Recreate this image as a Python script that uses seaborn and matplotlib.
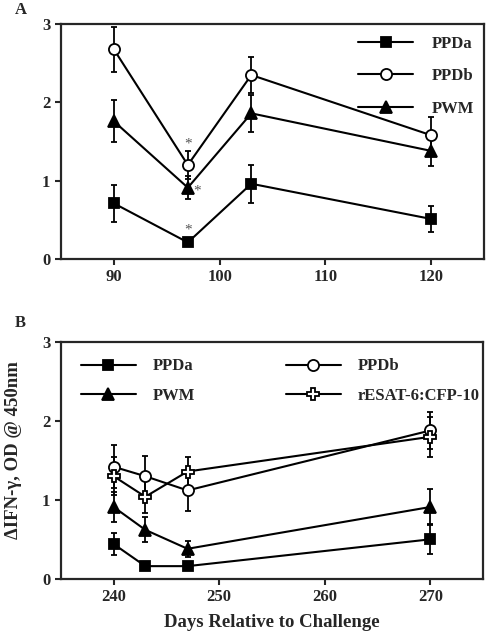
import pandas as pd
import matplotlib.pyplot as plt
import seaborn as sns

# Panel A data
days_a = [90, 97, 103, 120]
ppda_a = [0.71, 0.21, 0.96, 0.51]
ppda_a_err = [0.24, 0.03, 0.24, 0.17]
ppdb_a = [2.68, 1.20, 2.35, 1.58]
ppdb_a_err = [0.29, 0.18, 0.23, 0.23]
pwm_a = [1.76, 0.91, 1.86, 1.38]
pwm_a_err = [0.27, 0.15, 0.24, 0.19]

# Panel B data
days_b = [240, 243, 247, 270]
ppda_b = [0.44, 0.16, 0.16, 0.50]
ppda_b_err = [0.14, 0.02, 0.02, 0.19]
ppdb_b = [1.42, 1.30, 1.12, 1.88]
ppdb_b_err = [0.27, 0.26, 0.26, 0.24]
pwm_b = [0.91, 0.62, 0.38, 0.91]
pwm_b_err = [0.19, 0.16, 0.10, 0.23]
esat_b = [1.30, 1.04, 1.36, 1.80]
esat_b_err = [0.24, 0.21, 0.19, 0.25]

sns.set_style("ticks")
plt.rcParams["font.family"] = ["Liberation Serif", "DejaVu Serif"]
plt.rcParams["font.weight"] = "bold"

markers = {"PPDa": "s", "PPDb": "o", "PWM": "^", "rESAT-6:CFP-10": "P"}
faces = {"PPDa": "black", "PPDb": "white", "PWM": "black", "rESAT-6:CFP-10": "white"}


def make_df(days, series):
    rows = []
    for name, vals, errs in series:
        for d, v, e in zip(days, vals, errs):
            rows.append({"day": d, "value": v, "err": e, "group": name})
    return pd.DataFrame(rows)


def draw_panel(ax, df, order):
    for name in order:
        sub = df[df["group"] == name]
        ax.errorbar(sub["day"], sub["value"], yerr=sub["err"], fmt="none",
                    ecolor="black", elinewidth=1.3, capsize=2.5, capthick=1.3, zorder=1)
        sns.lineplot(data=sub, x="day", y="value", ax=ax, color="black",
                     marker=markers[name], markersize=8 if name != "PPDa" else 7.5,
                     markerfacecolor=faces[name], markeredgecolor="black",
                     markeredgewidth=1.3, linewidth=1.5, label=name, zorder=3)
    ax.set_ylim(0, 3)
    ax.set_yticks([0, 1, 2, 3])
    for s in ax.spines.values():
        s.set_linewidth(1.6)
        s.set_visible(True)
    ax.tick_params(axis="both", labelsize=12, width=1.5, length=4, direction="out")
    for lab in ax.get_xticklabels() + ax.get_yticklabels():
        lab.set_fontweight("bold")
    ax.set_xlabel("")
    ax.set_ylabel("")


fig = plt.figure(figsize=(4.87, 6.36), dpi=100)
ax_a = fig.add_axes([0.125, 0.593, 0.869, 0.369])
ax_b = fig.add_axes([0.125, 0.090, 0.867, 0.372])

df_a = make_df(days_a, [("PPDa", ppda_a, ppda_a_err),
                        ("PPDb", ppdb_a, ppdb_a_err),
                        ("PWM", pwm_a, pwm_a_err)])
draw_panel(ax_a, df_a, ["PPDa", "PPDb", "PWM"])
ax_a.set_xlim(85, 125)
ax_a.set_xticks([90, 100, 110, 120])
ax_a.legend(loc="upper right", frameon=False, handlelength=3.3, handletextpad=1.1,
            labelspacing=1.0, prop={"size": 12, "weight": "bold"},
            bbox_to_anchor=(1.012, 1.015))

# significance stars
star_kw = dict(color="#555555", fontsize=11, fontweight="normal", ha="center", va="center")
ax_a.text(97, 1.47, "*", **star_kw)
ax_a.text(97.85, 0.87, "*", **star_kw)
ax_a.text(97, 0.37, "*", **star_kw)

df_b = make_df(days_b, [("PPDa", ppda_b, ppda_b_err),
                        ("PPDb", ppdb_b, ppdb_b_err),
                        ("PWM", pwm_b, pwm_b_err),
                        ("rESAT-6:CFP-10", esat_b, esat_b_err)])
draw_panel(ax_b, df_b, ["PPDa", "PWM", "PPDb", "rESAT-6:CFP-10"])
ax_b.set_xlim(235, 275)
ax_b.set_xticks([240, 250, 260, 270])
ax_b.legend(loc="upper left", ncol=2, frameon=False, handlelength=3.3,
            handletextpad=1.0, labelspacing=0.8, columnspacing=5.45,
            prop={"size": 12, "weight": "bold"}, bbox_to_anchor=(0.012, 0.995))
ax_b.set_xlabel("Days Relative to Challenge", fontsize=13.5, fontweight="bold", labelpad=6)
ax_b.set_ylabel("ΔIFN-γ, OD @ 450nm", fontsize=13.5, fontweight="bold")
ax_b.yaxis.set_label_coords(-0.093, 0.545)

fig.text(0.03, 0.985, "A", fontsize=12, fontweight="bold", va="center")
fig.text(0.03, 0.492, "B", fontsize=12, fontweight="bold", va="center")

plt.savefig("out.png", dpi=100)
